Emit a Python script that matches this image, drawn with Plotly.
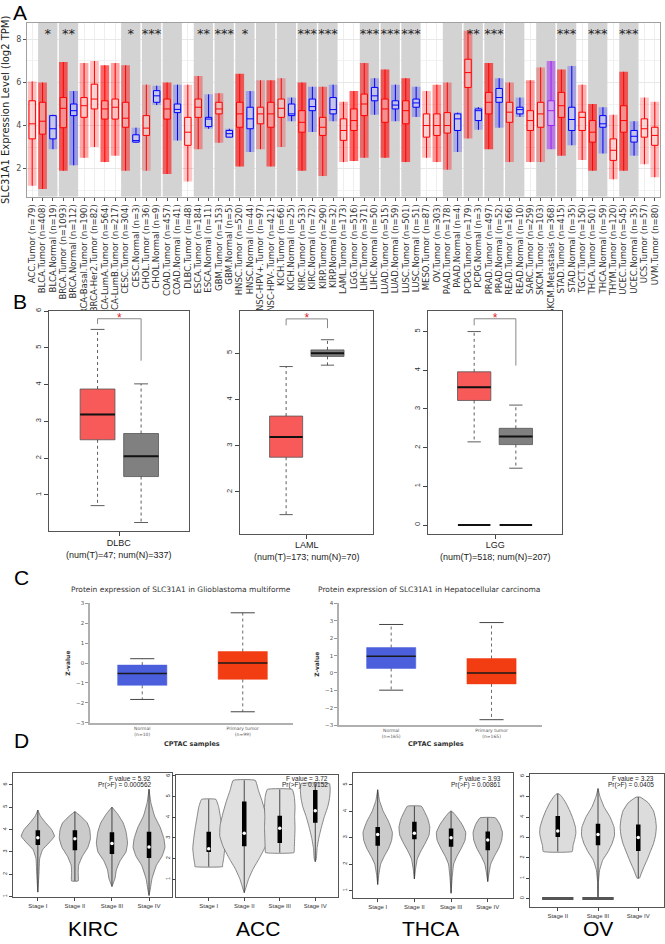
import plotly.graph_objects as go

W, H = 665, 944

# ---------------- A: TIMER expression across cancer types ----------------
a_names = [
    "ACC.Tumor", "BLCA.Tumor", "BLCA.Normal", "BRCA.Tumor", "BRCA.Normal",
    "BRCA-Basal.Tumor", "BRCA-Her2.Tumor", "BRCA-LumA.Tumor", "BRCA-LumB.Tumor",
    "CESC.Tumor", "CESC.Normal", "CHOL.Tumor", "CHOL.Normal", "COAD.Tumor",
    "COAD.Normal", "DLBC.Tumor", "ESCA.Tumor", "ESCA.Normal", "GBM.Tumor",
    "GBM.Normal", "HNSC.Tumor", "HNSC.Normal", "HNSC-HPV+.Tumor", "HNSC-HPV-.Tumor",
    "KICH.Tumor", "KICH.Normal", "KIRC.Tumor", "KIRC.Normal", "KIRP.Tumor",
    "KIRP.Normal", "LAML.Tumor", "LGG.Tumor", "LIHC.Tumor", "LIHC.Normal",
    "LUAD.Tumor", "LUAD.Normal", "LUSC.Tumor", "LUSC.Normal", "MESO.Tumor",
    "OV.Tumor", "PAAD.Tumor", "PAAD.Normal", "PCPG.Tumor", "PCPG.Normal",
    "PRAD.Tumor", "PRAD.Normal", "READ.Tumor", "READ.Normal", "SARC.Tumor",
    "SKCM.Tumor", "SKCM.Metastasis", "STAD.Tumor", "STAD.Normal", "TGCT.Tumor",
    "THCA.Tumor", "THCA.Normal", "THYM.Tumor", "UCEC.Tumor", "UCEC.Normal",
    "UCS.Tumor", "UVM.Tumor",
]
a_n = [79, 408, 19, 1093, 112, 190, 82, 564, 217, 304, 3, 36, 9, 457, 41, 48, 184, 11,
       153, 5, 520, 44, 97, 421, 66, 25, 533, 72, 290, 32, 173, 516, 371, 50, 515, 59,
       501, 51, 87, 303, 178, 4, 179, 3, 497, 52, 166, 10, 259, 103, 368, 415, 35, 150,
       501, 59, 120, 545, 35, 57, 80]
a_q1 = [3.38, 3.6, 3.38, 3.9, 4.46, 4.38, 4.77, 4.3, 4.3, 3.92, 3.23, 3.54, 5.08, 4.3,
        4.6, 3.08, 4.38, 3.95, 4.54, 3.46, 3.92, 3.85, 4.08, 3.92, 4.38, 4.46, 3.69, 4.69,
        3.54, 4.54, 3.31, 3.77, 4.46, 5.15, 4.15, 4.77, 4.08, 4.85, 3.46, 3.54, 3.65, 3.77,
        5.77, 4.23, 4.54, 5.08, 4.15, 4.54, 3.77, 3.92, 4.0, 4.38, 3.77, 3.77, 3.23, 3.92,
        2.38, 3.69, 3.23, 3.46, 3.08]
a_med = [4.08, 4.2, 3.85, 4.8, 4.69, 4.92, 5.23, 4.77, 4.85, 4.34, 3.3, 3.88, 5.38, 4.77,
         4.75, 3.69, 4.85, 4.3, 4.77, 3.62, 4.54, 4.31, 4.54, 4.54, 4.8, 4.54, 4.15, 4.88,
         3.92, 4.74, 3.77, 4.23, 5.0, 5.38, 4.77, 4.95, 4.69, 5.05, 4.0, 4.0, 4.0, 4.31,
         6.46, 4.69, 5.08, 5.3, 4.62, 4.74, 4.23, 4.54, 4.69, 4.92, 4.28, 4.38, 3.69, 4.08,
         2.85, 4.23, 3.5, 3.85, 3.54]
a_q3 = [5.15, 5.08, 4.46, 5.3, 5.0, 5.3, 5.92, 5.15, 5.23, 5.08, 3.57, 4.46, 5.62, 5.23,
        5.0, 4.38, 5.23, 4.38, 5.08, 3.77, 5.08, 4.85, 4.85, 5.08, 5.23, 5.0, 4.69, 5.23,
        4.38, 5.3, 4.31, 4.77, 5.46, 5.77, 5.23, 5.15, 5.15, 5.23, 4.54, 4.54, 4.6, 4.54,
        7.08, 4.77, 5.54, 5.72, 5.08, 4.85, 4.69, 5.08, 5.15, 5.54, 4.85, 4.62, 4.23, 4.46,
        3.38, 4.92, 3.77, 4.31, 3.92]
a_lo = [1.2, 1.05, 2.9, 1.9, 2.15, 2.5, 3.0, 2.3, 2.6, 1.9, 3.2, 1.9, 4.95, 1.75, 3.3,
        1.4, 2.9, 3.85, 3.2, 3.45, 2.1, 2.77, 2.9, 2.1, 3.0, 4.2, 1.9, 3.7, 1.65, 4.2, 2.3,
        2.35, 2.5, 4.5, 2.5, 4.2, 2.3, 4.4, 2.5, 2.3, 1.95, 2.77, 3.4, 3.8, 2.9, 3.9, 2.3,
        4.4, 2.3, 2.3, 2.9, 2.6, 3.08, 2.4, 1.9, 2.7, 1.5, 1.9, 2.6, 2.2, 1.6]
a_hi = [6.05, 6.0, 4.5, 6.95, 5.6, 6.9, 7.0, 6.8, 6.9, 6.8, 3.9, 5.9, 5.85, 6.0, 5.9,
        5.9, 6.3, 5.45, 5.5, 3.85, 6.4, 5.6, 6.1, 6.1, 6.2, 5.3, 6.0, 5.8, 5.8, 5.9, 5.1,
        5.6, 6.9, 6.2, 6.6, 5.9, 6.2, 5.8, 5.6, 5.9, 6.0, 4.6, 8.4, 4.85, 6.9, 6.2, 6.0,
        5.3, 6.1, 6.7, 7.0, 6.6, 6.77, 5.9, 5.0, 4.85, 4.5, 6.5, 4.2, 5.3, 5.1]
a_sig_at = [1, 3, 9, 11, 16, 18, 20, 26, 28, 32, 34, 36, 42, 44, 51, 54, 57]
a_sig = ["*", "**", "*", "***", "**", "***", "*", "***", "***", "***", "***", "***",
         "**", "***", "***", "***", "***"]
a_bands = [(1, 2), (3, 4), (9, 10), (11, 12), (13, 14), (16, 17), (18, 19), (20, 21),
           (22, 23), (24, 25), (26, 27), (28, 29), (32, 33), (34, 35), (36, 37), (40, 41),
           (42, 43), (44, 45), (46, 47), (49, 50), (51, 52), (54, 55), (57, 58)]

# ---------------- B: GEPIA tumour vs normal ----------------
b_types = ["DLBC", "LAML", "LGG"]
b_num = ["(num(T)=47; num(N)=337)", "(num(T)=173; num(N)=70)", "(num(T)=518; num(N)=207)"]
b_q1 = [[2.5, 1.5], [2.75, 4.93], [3.22, 2.08]]
b_med = [[3.19, 2.05], [3.19, 5.0], [3.56, 2.29]]
b_q3 = [[3.88, 2.67], [3.64, 5.07], [3.96, 2.5]]
b_lo = [[0.71, 0.25], [1.51, 4.74], [2.15, 1.47]]
b_hi = [[5.5, 4.02], [4.71, 5.29], [5.0, 3.1]]
b_sig_top = [5.79, 5.74, 5.33]
b_sig_left = [5.65, 5.6, 5.16]
b_sig_right = [4.65, 5.54, 4.12]
lgg_zero = [0, 0]

# ---------------- C: CPTAC protein ----------------
c_titles = ["Protein expression of SLC31A1 in Glioblastoma multiforme",
            "Protein expression of SLC31A1 in Hepatocellular carcinoma"]
c_groups = [["Normal<br>(n=10)", "Primary tumor<br>(n=99)"],
            ["Normal<br>(n=165)", "Primary tumor<br>(n=165)"]]
c_q1 = [[-1.12, -0.82], [0.26, -0.63]]
c_med = [[-0.52, 0.0], [0.96, 0.0]]
c_q3 = [[-0.1, 0.58], [1.46, 0.83]]
c_lo = [[-1.83, -2.45], [-0.99, -2.69]]
c_hi = [[0.22, 2.53], [2.79, 2.9]]

# ---------------- D: expression by stage ----------------
d_types = ["KIRC", "ACC", "THCA", "OV"]
d_stages = [["Stage I", "Stage II", "Stage III", "Stage IV"],
            ["Stage I", "Stage II", "Stage III", "Stage IV"],
            ["Stage I", "Stage II", "Stage III", "Stage IV"],
            ["Stage II", "Stage III", "Stage IV"]]
d_f = ["5.92", "3.72", "3.93", "3.23"]
d_p = ["0.000562", "0.0152", "0.00861", "0.0405"]

kirc_y = [[4.87, 4.6, 4.3, 4.0, 3.7, 3.4, 3.1, 2.7, 2.0, 1.2],
          [4.8, 4.6, 4.3, 4.0, 3.6, 3.2, 2.8, 2.4, 2.1, 1.7],
          [5.0, 4.7, 4.3, 3.9, 3.4, 3.0, 2.6, 2.2, 1.8, 1.45],
          [5.8, 5.2, 4.6, 4.1, 3.6, 3.2, 2.8, 2.4, 1.8, 1.3, 1.05]]
kirc_w = [[0, 0.07, 0.21, 0.37, 0.45, 0.3, 0.13, 0.05, 0.03, 0],
          [0, 0.15, 0.33, 0.4, 0.42, 0.35, 0.2, 0.1, 0.09, 0.09],
          [0, 0.15, 0.3, 0.38, 0.42, 0.38, 0.22, 0.12, 0.08, 0],
          [0, 0.05, 0.15, 0.3, 0.4, 0.43, 0.35, 0.2, 0.08, 0.03, 0]]
acc_y = [[4.87, 4.5, 4.0, 3.5, 3.0, 2.5, 2.0, 1.7, 1.61],
         [5.79, 5.3, 4.8, 4.2, 3.6, 3.1, 2.6, 2.0, 1.5, 1.0, 0.5, 0.35],
         [5.35, 5.0, 4.5, 4.0, 3.5, 3.0, 2.5, 2.29],
         [5.63, 5.3, 4.9, 4.5, 4.0, 3.5, 3.0, 2.5, 2.0, 1.85]]
acc_w = [[0.2, 0.28, 0.33, 0.38, 0.42, 0.45, 0.42, 0.39, 0.39],
         [0.31, 0.4, 0.5, 0.6, 0.68, 0.69, 0.6, 0.42, 0.25, 0.12, 0.03, 0],
         [0.35, 0.41, 0.43, 0.42, 0.43, 0.42, 0.41, 0.4],
         [0.4, 0.42, 0.4, 0.35, 0.25, 0.17, 0.1, 0.05, 0.03, 0]]
thca_y = [[4.81, 4.4, 4.0, 3.6, 3.2, 2.9, 2.6, 2.3, 2.0, 1.6, 1.23],
          [4.19, 4.0, 3.7, 3.4, 3.1, 2.8, 2.5, 2.2, 1.8, 1.44],
          [4.0, 3.8, 3.5, 3.2, 2.9, 2.6, 2.3, 2.0, 1.5, 0.9],
          [3.75, 3.5, 3.2, 2.9, 2.6, 2.3, 2.0, 1.7, 1.34]]
thca_w = [[0, 0.05, 0.15, 0.3, 0.4, 0.38, 0.3, 0.18, 0.08, 0.03, 0],
          [0.19, 0.27, 0.37, 0.42, 0.4, 0.3, 0.18, 0.08, 0.03, 0],
          [0.02, 0.15, 0.3, 0.4, 0.38, 0.28, 0.16, 0.07, 0.03, 0],
          [0.21, 0.33, 0.4, 0.38, 0.3, 0.18, 0.08, 0.04, 0]]
ov_y = [[5.14, 5.0, 4.7, 4.3, 3.9, 3.5, 3.2, 2.9, 2.6, 2.31],
        [5.4, 5.0, 4.5, 4.0, 3.5, 3.1, 2.7, 2.3, 1.9, 1.4, 0.8, 0.0],
        [4.98, 4.7, 4.3, 3.9, 3.5, 3.1, 2.7, 2.3, 1.9, 1.5, 1.2, 1.0]]
ov_w = [[0.03, 0.1, 0.2, 0.3, 0.38, 0.44, 0.45, 0.42, 0.38, 0.36],
        [0, 0.05, 0.15, 0.3, 0.4, 0.41, 0.35, 0.25, 0.12, 0.04, 0.01, 0],
        [0.05, 0.25, 0.38, 0.43, 0.45, 0.43, 0.38, 0.3, 0.22, 0.13, 0.07, 0.03]]
ov_zero = [0, 0, None]
d_q1 = [[3.31, 3.07, 2.9, 2.72], [2.32, 2.6, 2.76, 3.73], [2.69, 2.94, 2.66, 2.52],
        [3.02, 2.62, 2.34]]
d_med = [[3.63, 3.59, 3.37, 3.22], [2.48, 3.23, 3.47, 4.32], [3.12, 3.17, 3.0, 2.91],
         [3.32, 3.15, 3.0]]
d_q3 = [[3.96, 3.96, 3.88, 3.9], [3.3, 4.76, 4.08, 5.32], [3.4, 3.6, 3.35, 3.23],
        [4.05, 3.67, 3.64]]
d_prof_y = [kirc_y, acc_y, thca_y, ov_y]
d_prof_w = [kirc_w, acc_w, thca_w, ov_w]


def px(x):
    return x / W


def py(y):
    return 1 - y / H


def dom(a, b, top, bottom):
    return [px(a), px(b)], [py(bottom), py(top)]


fig = go.Figure()
layout = {}
annotations = []
shapes = []


def axnames(i):
    return ("x" if i == 1 else f"x{i}"), ("y" if i == 1 else f"y{i}")


def keys(i):
    return ("xaxis" if i == 1 else f"xaxis{i}"), ("yaxis" if i == 1 else f"yaxis{i}")


# ---------------- Panel A ----------------
xd, yd = dom(27, 660, 20, 195)
xk, yk = keys(1)
a_idx = list(range(len(a_names)))
a_labels = [f"{nm} (n={n})" for nm, n in zip(a_names, a_n)]
layout[xk] = dict(domain=xd, range=[-0.5, len(a_names) - 0.5], tickvals=a_idx,
                  ticktext=a_labels, tickangle=-90, anchor="y",
                  tickfont=dict(size=8.5, color="#333333", family="DejaVu Sans"),
                  ticks="outside", ticklen=3, tickcolor="#555", showgrid=True,
                  gridcolor="#eeeeee", gridwidth=1, showline=True, mirror=True,
                  linecolor="#a0a0a0", zeroline=False)
layout[yk] = dict(domain=yd, range=[0.69, 8.77], tickvals=[2, 4, 6, 8], anchor="x",
                  tickfont=dict(size=8, color="#4d4d4d", family="DejaVu Sans"),
                  ticks="outside", ticklen=3, tickcolor="#555", showgrid=True,
                  gridcolor="#e8e8e8", showline=True, mirror=True, linecolor="#a0a0a0",
                  zeroline=False,
                  minor=dict(tickvals=[1, 3, 5, 7], showgrid=True, gridcolor="#f2f2f2",
                             ticks=""),
                  title=dict(text="SLC31A1 Expression Level (log2 TPM)", standoff=4,
                             font=dict(size=10, color="#222", family="DejaVu Sans")))
for s, e in a_bands:
    shapes.append(dict(type="rect", xref="x", yref="y", x0=s - 0.5 + 0.07,
                       x1=e + 0.5 - 0.07, y0=0.69, y1=8.77, fillcolor="#d3d3d3",
                       line=dict(width=0), layer="between"))


def kind(nm):
    if nm.endswith("Normal"):
        return (0, 0, 255)
    if nm.endswith("Metastasis"):
        return (160, 32, 240)
    return (255, 0, 0)


# spread of the sample points: a translucent column from lowest to highest value
for i, (nm, n) in enumerate(zip(a_names, a_n)):
    r, g, b = kind(nm)
    alpha = 0.18 + 0.42 * min(n, 500) / 500
    shapes.append(dict(type="rect", xref="x", yref="y", x0=i - 0.42, x1=i + 0.42,
                       y0=a_lo[i], y1=a_hi[i], fillcolor=f"rgba({r},{g},{b},{alpha:.2f})",
                       line=dict(width=0), layer="between"))
for rgb in [(255, 0, 0), (0, 0, 255), (160, 32, 240)]:
    sel = [i for i in a_idx if kind(a_names[i]) == rgb]
    col = f"rgb{rgb}"
    fig.add_trace(go.Box(
        x=sel, q1=[a_q1[i] for i in sel], median=[a_med[i] for i in sel],
        q3=[a_q3[i] for i in sel], lowerfence=[a_lo[i] for i in sel],
        upperfence=[a_hi[i] for i in sel], width=0.62, whiskerwidth=0,
        fillcolor="rgba(255,255,255,0.35)", line=dict(color=col, width=1),
        boxpoints=False, xaxis="x", yaxis="y", showlegend=False))
fig.add_trace(go.Scatter(x=[i + 0.5 for i in a_sig_at], y=[8.22] * len(a_sig_at),
                         text=a_sig, mode="text", xaxis="x", yaxis="y",
                         textfont=dict(size=13, color="#222", family="DejaVu Sans"),
                         showlegend=False, hoverinfo="skip"))

# ---------------- Panel B ----------------
b_geo = [((49, 189, 310, 531), (0.03, 6.0), [1, 2, 3, 4, 5, 6], 549),
         ((240, 373, 310, 534), (1.1, 5.91), [2, 3, 4, 5], 552),
         ((427.7, 561.7, 310, 534), (-0.22, 5.53), [0, 1, 2, 3, 4, 5], 552)]
b_xr = (-0.115, 3.1)
b_cols = ["#f85a5a", "#808080"]
for k in range(3):
    (x0, x1, t, bt), yr, tv, lab_y = b_geo[k]
    ai = 2 + k
    xa, ya = axnames(ai)
    xk, yk = keys(ai)
    xd, yd = dom(x0, x1, t, bt)
    layout[xk] = dict(domain=xd, range=list(b_xr), anchor=ya, tickvals=[1.5],
                      ticktext=[""], ticks="outside", ticklen=4, tickcolor="#444",
                      showline=True, mirror=True, linecolor="#555", showgrid=False,
                      zeroline=False)
    layout[yk] = dict(domain=yd, range=list(yr), anchor=xa, tickvals=tv, tickangle=-90,
                      ticks="outside", ticklen=4, tickcolor="#444",
                      tickfont=dict(size=7.5, color="#333", family="Liberation Sans"),
                      showline=True, mirror=True, linecolor="#555", showgrid=False,
                      zeroline=False)
    # white ground under the boxes, as in the pasted GEPIA image
    fig.add_trace(go.Bar(x=[b_xr[0]], y=[yr[1] - yr[0]], base=[yr[0]],
                         width=b_xr[1] - b_xr[0], offset=0,
                         marker=dict(color="white", line=dict(width=0)),
                         xaxis=xa, yaxis=ya, showlegend=False, hoverinfo="skip"))
    for j in range(2):
        pos = j + 1
        fig.add_trace(go.Box(x=[pos], q1=[b_q1[k][j]], median=[b_med[k][j]],
                             q3=[b_q3[k][j]], lowerfence=[b_q1[k][j]],
                             upperfence=[b_q3[k][j]], width=0.8, whiskerwidth=0,
                             fillcolor=b_cols[j], line=dict(color="#555", width=0.8),
                             boxpoints=False, xaxis=xa, yaxis=ya, showlegend=False))
        fig.add_trace(go.Scatter(x=[pos - 0.4, pos + 0.4], y=[b_med[k][j]] * 2,
                                 mode="lines", line=dict(color="#111", width=2),
                                 xaxis=xa, yaxis=ya, showlegend=False, hoverinfo="skip"))
        fig.add_trace(go.Scatter(x=[pos, pos, None, pos, pos],
                                 y=[b_q3[k][j], b_hi[k][j], None, b_q1[k][j], b_lo[k][j]],
                                 mode="lines", line=dict(color="#333", width=0.8, dash="dot"),
                                 xaxis=xa, yaxis=ya, showlegend=False, hoverinfo="skip"))
        fig.add_trace(go.Scatter(x=[pos - 0.16, pos + 0.16, None, pos - 0.16, pos + 0.16],
                                 y=[b_hi[k][j]] * 2 + [None] + [b_lo[k][j]] * 2,
                                 mode="lines", line=dict(color="#333", width=0.8),
                                 xaxis=xa, yaxis=ya, showlegend=False, hoverinfo="skip"))
    if k == 2:
        for j, z in enumerate(lgg_zero):
            fig.add_trace(go.Scatter(x=[j + 1 - 0.39, j + 1 + 0.39], y=[z, z], mode="lines",
                                     line=dict(color="#111", width=2), xaxis=xa, yaxis=ya,
                                     showlegend=False, hoverinfo="skip"))
    fig.add_trace(go.Scatter(x=[1, 1, 2, 2],
                             y=[b_sig_left[k], b_sig_top[k], b_sig_top[k], b_sig_right[k]],
                             mode="lines", line=dict(color="#888", width=1),
                             xaxis=xa, yaxis=ya, showlegend=False, hoverinfo="skip"))
    fig.add_trace(go.Scatter(x=[1.5], y=[b_sig_top[k]], text=["*"], mode="text",
                             textposition="middle center",
                             textfont=dict(size=12, color="#e0202a", family="Liberation Sans"),
                             xaxis=xa, yaxis=ya, showlegend=False, hoverinfo="skip"))
    cx = x0 + (1.5 - b_xr[0]) / (b_xr[1] - b_xr[0]) * (x1 - x0)
    annotations.append(dict(x=px(cx), y=py(lab_y), xref="paper", yref="paper",
                            text=f"{b_types[k]}<br>{b_num[k]}", showarrow=False,
                            font=dict(size=9, color="#222", family="Liberation Sans"),
                            xanchor="center", yanchor="middle"))

# ---------------- Panel C ----------------
c_geo = [((90, 293, 604.3, 724.3), (-3, 3), 181, 192),
         ((339, 541.7, 604.3, 726.7), (-3, 4), 428.5, 436)]
c_cols = ["#4b5fdc", "#f23c12"]
for k in range(2):
    (x0, x1, t, bt), yr, tx, xt = c_geo[k]
    ai = 5 + k
    xa, ya = axnames(ai)
    xk, yk = keys(ai)
    xd, yd = dom(x0, x1, t, bt)
    layout[xk] = dict(domain=xd, range=[0.48, 2.5], anchor=ya, tickvals=[1, 2],
                      ticktext=c_groups[k], ticks="",
                      tickfont=dict(size=4.5, color="#555", family="DejaVu Sans"),
                      showline=True, linecolor="#b0b0b0", linewidth=1.5, showgrid=False,
                      zeroline=False)
    layout[yk] = dict(domain=yd, range=list(yr), anchor=xa, dtick=1, ticks="outside",
                      ticklen=3, tickcolor="#999",
                      tickfont=dict(size=5.5, color="#555", family="DejaVu Sans"),
                      showline=True, linecolor="#b0b0b0", linewidth=1.5, showgrid=False,
                      zeroline=False,
                      title=dict(text="<b>Z-value</b>", standoff=5,
                                 font=dict(size=6, color="#333", family="DejaVu Sans")))
    for j in range(2):
        pos = j + 1
        fig.add_trace(go.Box(x=[pos], q1=[c_q1[k][j]], median=[c_med[k][j]],
                             q3=[c_q3[k][j]], lowerfence=[c_q1[k][j]],
                             upperfence=[c_q3[k][j]], width=0.49, whiskerwidth=0,
                             fillcolor=c_cols[j], line=dict(color=c_cols[j], width=0.5),
                             boxpoints=False, xaxis=xa, yaxis=ya, showlegend=False))
        fig.add_trace(go.Scatter(x=[pos - 0.245, pos + 0.245], y=[c_med[k][j]] * 2,
                                 mode="lines", line=dict(color="#1a1a1a", width=1.5),
                                 xaxis=xa, yaxis=ya, showlegend=False, hoverinfo="skip"))
        fig.add_trace(go.Scatter(x=[pos, pos, None, pos, pos],
                                 y=[c_q3[k][j], c_hi[k][j], None, c_q1[k][j], c_lo[k][j]],
                                 mode="lines", line=dict(color="#444", width=0.8, dash="dot"),
                                 xaxis=xa, yaxis=ya, showlegend=False, hoverinfo="skip"))
        fig.add_trace(go.Scatter(x=[pos - 0.12, pos + 0.12, None, pos - 0.12, pos + 0.12],
                                 y=[c_hi[k][j]] * 2 + [None] + [c_lo[k][j]] * 2,
                                 mode="lines", line=dict(color="#444", width=1),
                                 xaxis=xa, yaxis=ya, showlegend=False, hoverinfo="skip"))
    annotations.append(dict(x=px(tx), y=py(590), xref="paper", yref="paper",
                            text=c_titles[k], showarrow=False,
                            font=dict(size=7.5, color="#333", family="DejaVu Sans"),
                            xanchor="center", yanchor="middle"))
    annotations.append(dict(x=px(xt), y=py(746), xref="paper", yref="paper",
                            text="<b>CPTAC samples</b>", showarrow=False,
                            font=dict(size=6.5, color="#333", family="DejaVu Sans"),
                            xanchor="center", yanchor="middle"))

# ---------------- Panel D ----------------
d_geo = [((13, 172, 775, 900), (0.97, 6.52), (0.33, 4.62), [1, 2, 3, 4, 5, 6], 152.7, 93),
         ((175.7, 338, 777.3, 899.3), (0.16, 6.03), (0.07, 4.64), [1, 2, 3, 4, 5, 6], 330, 258),
         ((353.3, 512.7, 775, 901), (0.71, 5.44), (0.335, 4.68), [1, 2, 3, 4, 5], 502.7, 430),
         ((530, 664, 776, 909.3), (-0.39, 6.11), (0.31, 3.64), [0, 1, 2, 3, 4, 5, 6], 656, 598)]
d_fill = ["#cbcbcb", "#e0e0e0", "#cbcbcb", "#dcdcdc"]
for k in range(4):
    (x0, x1, t, bt), yr, xr, tv, ftx, lbx = d_geo[k]
    ai = 7 + k
    xa, ya = axnames(ai)
    xk, yk = keys(ai)
    xd, yd = dom(x0, x1, t, bt)
    npos = list(range(1, len(d_stages[k]) + 1))
    layout[xk] = dict(domain=xd, range=list(xr), anchor=ya, tickvals=npos,
                      ticktext=d_stages[k], ticks="outside", ticklen=3, tickcolor="#444",
                      tickfont=dict(size=6, color="#333", family="Liberation Sans"),
                      showline=True, mirror=True, linecolor="#555", showgrid=False,
                      zeroline=False)
    layout[yk] = dict(domain=yd, range=list(yr), anchor=xa, tickvals=tv, tickangle=-90,
                      ticks="outside", ticklen=3, tickcolor="#444",
                      tickfont=dict(size=5.5, color="#333", family="Liberation Sans"),
                      showline=True, mirror=True, linecolor="#555", showgrid=False,
                      zeroline=False)
    for j, pos in enumerate(npos):
        ys = d_prof_y[k][j]
        ws = d_prof_w[k][j]
        vx = [pos + w for w in ws] + [pos - w for w in reversed(ws)]
        vy = list(ys) + list(reversed(ys))
        fig.add_trace(go.Scatter(x=vx + [vx[0]], y=vy + [vy[0]], fill="toself",
                                 fillcolor=d_fill[k], mode="lines",
                                 line=dict(color="#6a6a6a", width=0.8, shape="spline",
                                           smoothing=0.35),
                                 xaxis=xa, yaxis=ya, showlegend=False, hoverinfo="skip"))
        fig.add_trace(go.Scatter(x=[pos, pos], y=[ys[0], ys[-1]], mode="lines",
                                 line=dict(color="#222", width=0.8),
                                 xaxis=xa, yaxis=ya, showlegend=False, hoverinfo="skip"))
        fig.add_trace(go.Scatter(x=[pos, pos], y=[d_q1[k][j], d_q3[k][j]], mode="lines",
                                 line=dict(color="#000", width=4.5),
                                 xaxis=xa, yaxis=ya, showlegend=False, hoverinfo="skip"))
        fig.add_trace(go.Scatter(x=[pos], y=[d_med[k][j]], mode="markers",
                                 marker=dict(color="white", size=3.5),
                                 xaxis=xa, yaxis=ya, showlegend=False, hoverinfo="skip"))
        if k == 3 and ov_zero[j] is not None:
            fig.add_trace(go.Scatter(x=[pos - 0.39, pos + 0.39], y=[ov_zero[j]] * 2,
                                     mode="lines", line=dict(color="#555", width=3),
                                     xaxis=xa, yaxis=ya, showlegend=False,
                                     hoverinfo="skip"))
    annotations.append(dict(x=px(ftx), y=py(780.5), xref="paper", yref="paper",
                            text=f"F value = {d_f[k]}", showarrow=False,
                            font=dict(size=6.5, color="#222", family="Liberation Sans"),
                            xanchor="right", yanchor="middle"))
    annotations.append(dict(x=px(ftx), y=py(787.5), xref="paper", yref="paper",
                            text=f"Pr(>F) = {d_p[k]}", showarrow=False,
                            font=dict(size=6.5, color="#222", family="Liberation Sans"),
                            xanchor="right", yanchor="middle"))
    annotations.append(dict(x=px(lbx), y=py(931), xref="paper", yref="paper",
                            text=d_types[k], showarrow=False,
                            font=dict(size=21, color="#000", family="Liberation Sans"),
                            xanchor="center", yanchor="middle"))

for letter, lx, ly in [("A", 20, 10), ("B", 20, 300), ("C", 21, 578), ("D", 21, 742)]:
    annotations.append(dict(x=px(lx), y=py(ly), xref="paper", yref="paper", text=letter,
                            showarrow=False, xanchor="center", yanchor="middle",
                            font=dict(size=21, color="#000", family="Liberation Sans")))

fig.update_layout(width=W, height=H, margin=dict(l=0, r=0, t=0, b=0),
                  paper_bgcolor="white", plot_bgcolor="rgba(0,0,0,0)",
                  showlegend=False, boxmode="overlay", barmode="overlay", bargap=0,
                  annotations=annotations, shapes=shapes, **layout)
fig.write_html("out.html", config={"displayModeBar": False},
               post_script="document.body.style.margin='0';"
                           "document.body.style.overflow='hidden';")
